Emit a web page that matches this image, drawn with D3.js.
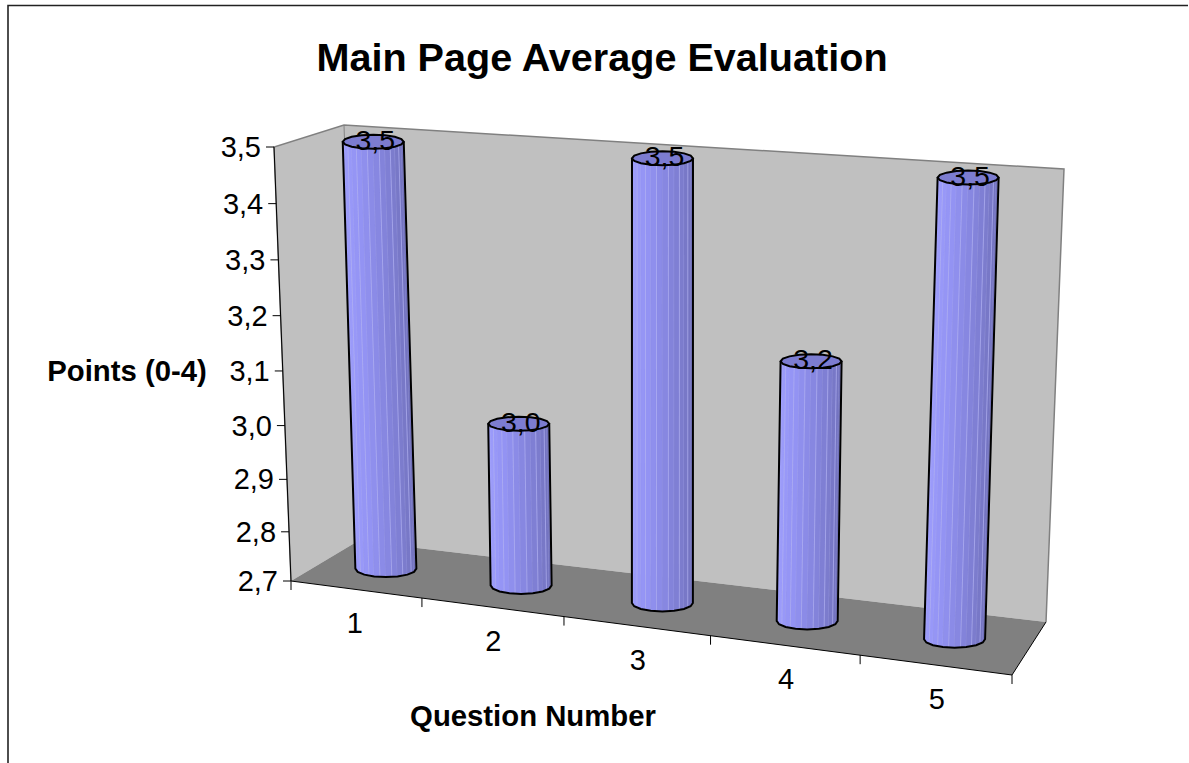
<!DOCTYPE html>
<html><head><meta charset="utf-8">
<script src="https://cdn.jsdelivr.net/npm/d3@7"></script>
<style>html,body{margin:0;background:#fff}svg{display:block}text{font-family:"Liberation Sans",Arial,sans-serif;fill:#000}</style>
</head><body><svg id="c" width="1189" height="763"></svg>
<script>
const categories = ["1","2","3","4","5"];
const values = [3.497, 3.01, 3.5, 3.17, 3.5];
const valueLabels = ["3,5","3,0","3,5","3,2","3,5"];
const yTicks = [2.7,2.8,2.9,3.0,3.1,3.2,3.3,3.4,3.5];
const yTickLabels = ["2,7","2,8","2,9","3,0","3,1","3,2","3,3","3,4","3,5"];

const svg = d3.select("#c");
svg.append("path").attr("d","M8,763V5.5H1188").attr("fill","none").attr("stroke","#222").attr("stroke-width",1.6);

// projection: u across the categories, h up the value axis, w into the depth
const cU = d3.scaleBand().domain(categories).range([0,1]);
const warpU = d3.scalePow().exponent(1.06).domain([0,1]).range([0,1]);
const cH = d3.scalePow().exponent(1.047).domain([0,0.8]).range([0,1]);
const H = v => cH(v-2.7);
const corners = {
  b00:[291,581], b10:[1012,675], b01:[358,541], b11:[1046,622],
  t00:[274,147], t10:[1028,196], t01:[344,125], t11:[1064,169]
};
const L = (a,b,t)=>[a[0]+(b[0]-a[0])*t,a[1]+(b[1]-a[1])*t];
function P(u0,h,w){
  const u=warpU(u0);
  const b=L(L(corners.b00,corners.b10,u),L(corners.b01,corners.b11,u),w);
  const t=L(L(corners.t00,corners.t10,u),L(corners.t01,corners.t11,u),w);
  return L(b,t,h);
}
const line=d3.line();
const poly=pts=>line(pts)+"Z";

// walls
const wall=(pts,fill)=>svg.append("path").attr("d",poly(pts)).attr("fill",fill);
wall([P(0,1,0),P(0,1,1),P(0,0,1),P(0,0,0)],"#c0c0c0");
wall([P(0,1,1),P(1,1,1),P(1,0,1),P(0,0,1)],"#c0c0c0");
wall([P(0,0,0),P(0,0,1),P(1,0,1),P(1,0,0)],"#808080");
svg.append("path").attr("d",line([P(0,0,0),P(0,1,0),P(0,1,1),P(1,1,1),P(1,0,1)])).attr("fill","none").attr("stroke","#808080").attr("stroke-width",1.5);
svg.append("path").attr("d",line([P(0,1,1),P(0,0,1)])).attr("fill","none").attr("stroke","#808080");

// axis lines
svg.append("path").attr("d",line([P(0,1,0),P(0,0,0)])).attr("fill","none").attr("stroke","#000");
svg.append("path").attr("d",line([P(0,0,0),P(1,0,0),P(1,0,1)])).attr("fill","none").attr("stroke","#000");

// y ticks
yTicks.forEach((v,i)=>{
  const p=P(0,H(v),0);
  svg.append("path").attr("d",line([[p[0]-8,p[1]],p])).attr("stroke","#000").attr("fill","none");
  svg.append("text").attr("x",p[0]-13).attr("y",p[1]+10).attr("text-anchor","end").attr("font-size",29).text(yTickLabels[i]);
});
// x ticks
const xEdges=categories.map(c=>cU(c)).concat([1]);
xEdges.forEach(u=>{
  const p=P(u,0,0);
  svg.append("path").attr("d",line([p,[p[0],p[1]+9]])).attr("stroke","#000").attr("fill","none");
});
categories.forEach(c=>{
  const p=P(cU(c)+cU.bandwidth()/2,0,0);
  svg.append("text").attr("x",p[0]+1).attr("y",p[1]+44).attr("text-anchor","middle").attr("font-size",29).text(c);
});

// cylinders
const facetColor=d3.scaleLinear().domain([0,0.35,1]).range(["#a0a0ff","#9292f2","#6c6cb4"]);
const nFacets=16, rx=30.5, ryTop=7, ryBot=8.5;
categories.forEach((c,i)=>{
  const u=cU(c)+cU.bandwidth()/2;
  const T=P(u,H(values[i]),0.5), B=P(u,0,0.5);
  const g=svg.append("g");
  const ang=d3.range(nFacets+1).map(k=>Math.PI*(1-k/nFacets));
  const pt=(C,ry,a)=>[C[0]+rx*Math.cos(a),C[1]+ry*Math.sin(a)];
  d3.range(nFacets).forEach(k=>{
    g.append("path").attr("d",poly([pt(T,ryTop,ang[k]),pt(T,ryTop,ang[k+1]),pt(B,ryBot,ang[k+1]),pt(B,ryBot,ang[k])]))
      .attr("fill",facetColor(k/(nFacets-1))).attr("stroke",k%2?"#b0b0f4":facetColor(k/(nFacets-1))).attr("stroke-width",0.7);
  });
  const ringTop=d3.range(nFacets).map(k=>pt(T,ryTop,2*Math.PI*k/nFacets));
  g.append("path").attr("d",poly(ringTop)).attr("fill","#7c7cd0").attr("stroke","#000").attr("stroke-width",2);
  const outline=[pt(T,ryTop,Math.PI),pt(B,ryBot,Math.PI)].concat(ang.filter((a,k)=>k%2===0).map(a=>pt(B,ryBot,a))).concat([pt(T,ryTop,0)]);
  g.append("path").attr("d",line(outline)).attr("fill","none").attr("stroke","#000").attr("stroke-width",2);
  svg.append("text").attr("x",T[0]+2).attr("y",T[1]+8).attr("text-anchor","middle").attr("font-size",28.5).text(valueLabels[i]);
});

// titles
svg.append("text").attr("x",602).attr("y",71).attr("text-anchor","middle").attr("font-size",39.6).attr("font-weight","bold").text("Main Page Average Evaluation");
svg.append("text").attr("x",127).attr("y",381).attr("text-anchor","middle").attr("font-size",29.3).attr("font-weight","bold").text("Points (0-4)");
svg.append("text").attr("x",533).attr("y",726).attr("text-anchor","middle").attr("font-size",29.3).attr("font-weight","bold").text("Question Number");
</script></body></html>
